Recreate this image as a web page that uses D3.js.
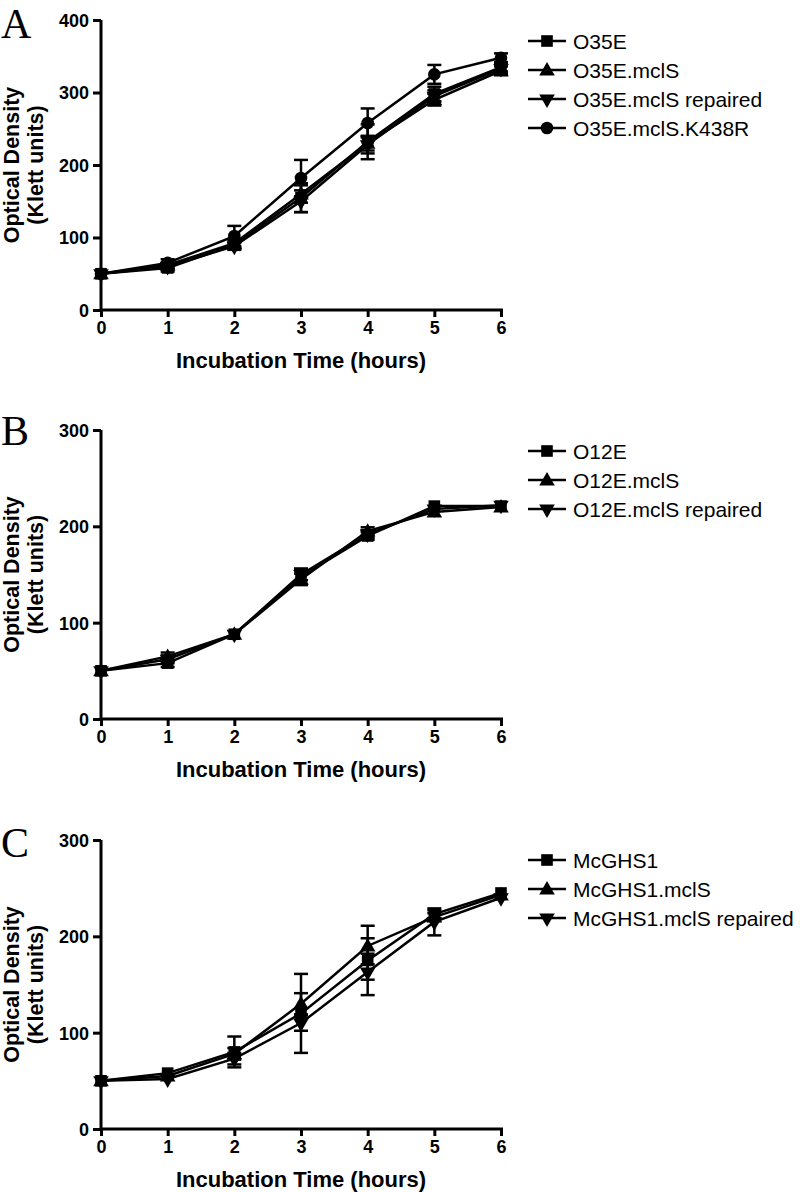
<!DOCTYPE html>
<html>
<head>
<meta charset="utf-8">
<script src="https://cdn.jsdelivr.net/npm/d3@7"></script>
<style>
  html, body { margin: 0; padding: 0; background: #fff; }
  svg { display: block; }
</style>
</head>
<body>
<svg id="chart" width="800" height="1192"></svg>
<script>
// ---------- DATA ----------
const hours = [0, 1, 2, 3, 4, 5, 6];
const xTicks = [0, 1, 2, 3, 4, 5, 6];

// Panel A
const aNames = ["O35E", "O35E.mclS", "O35E.mclS repaired", "O35E.mclS.K438R"];
const aO35E      = [50, 58, 90, 155, 232, 298, 335];
const aO35EErr   = [2, 5, 6, 20, 24, 10, 6];
const aMclS      = [50, 62, 92, 160, 230, 290, 330];
const aMclSErr   = [2, 4, 6, 12, 10, 8, 6];
const aRep       = [50, 60, 88, 150, 228, 295, 333];
const aRepErr    = [2, 4, 5, 15, 12, 8, 6];
const aK438R     = [50, 65, 102, 182, 258, 325, 348];
const aK438RErr  = [2, 5, 14, 25, 20, 13, 6];
const aYTicks = [0, 100, 200, 300, 400];

// Panel B
const bNames = ["O12E", "O12E.mclS", "O12E.mclS repaired"];
const bO12E    = [50, 58, 88, 148, 190, 221, 221];
const bO12EErr = [2, 4, 3, 8, 4, 3, 3];
const bMclS    = [50, 65, 88, 145, 195, 215, 220];
const bMclSErr = [2, 4, 3, 6, 4, 3, 3];
const bRep     = [50, 62, 88, 150, 192, 218, 222];
const bRepErr  = [2, 4, 3, 6, 4, 3, 3];
const bYTicks = [0, 100, 200, 300];

// Panel C
const cNames = ["McGHS1", "McGHS1.mclS", "McGHS1.mclS repaired"];
const cMcG     = [50, 58, 80, 120, 175, 223, 245];
const cMcGErr  = [2, 3, 16, 41, 36, 4, 3];
const cMclS    = [50, 55, 78, 130, 190, 220, 243];
const cMclSErr = [2, 3, 6, 11, 8, 4, 3];
const cRep     = [50, 52, 73, 110, 163, 215, 240];
const cRepErr  = [2, 3, 6, 8, 8, 14, 3];
const cYTicks = [0, 100, 200, 300];

// ---------- DRAW ----------
const svg = d3.select("#chart");
const markerShapes = ["square", "triangle", "triangleDown", "circle"];
const SANS = "Liberation Sans, Arial, sans-serif";

function symbolPath(shape) {
  if (shape === "square") return d3.symbol().type(d3.symbolSquare).size(135)();
  if (shape === "circle") return d3.symbol().type(d3.symbolCircle).size(125)();
  return d3.symbol().type(d3.symbolTriangle).size(105)();
}
function symbolTransform(shape, x, y) {
  if (shape === "triangleDown") return `translate(${x},${y}) rotate(180)`;
  if (shape === "triangle") return `translate(${x},${y + 1})`;
  return `translate(${x},${y})`;
}

function drawPanel(cfg) {
  const g = svg.append("g");
  const x = d3.scaleLinear().domain([0, 6]).range([101, 501]);
  const y = d3.scaleLinear().domain([0, cfg.yMax]).range([cfg.y0, cfg.yTop]);

  // Panel letter
  g.append("text")
    .attr("x", 1).attr("y", cfg.letterY)
    .attr("font-family", "Liberation Serif, Times New Roman, serif")
    .attr("font-size", 42)
    .text(cfg.letter);

  // Axes
  const yAxis = d3.axisLeft(y).tickValues(cfg.yTicks).tickSize(8).tickPadding(4).tickFormat(d3.format("d"));
  const xAxis = d3.axisBottom(x).tickValues(xTicks).tickSize(7).tickPadding(4).tickFormat(d3.format("d"));

  const ya = g.append("g").attr("transform", "translate(101,0)").call(yAxis);
  const xa = g.append("g").attr("transform", `translate(0,${cfg.y0})`).call(xAxis);
  [ya, xa].forEach(a => {
    a.select(".domain").attr("stroke", "#000").attr("stroke-width", 3)
      .attr("d", a === ya ? `M0,${cfg.yTop}V${cfg.y0}` : `M101,0H503`);
    a.selectAll(".tick line").attr("stroke", "#000").attr("stroke-width", 3);
    a.selectAll(".tick text")
      .attr("font-family", SANS)
      .attr("font-weight", "bold").attr("font-size", 18).attr("fill", "#000");
  });
  ya.selectAll(".tick text").attr("dy", "0.36em");

  // Axis titles
  const midY = (cfg.yTop + cfg.y0) / 2;
  g.append("text")
    .attr("transform", `translate(19,${midY}) rotate(-90)`)
    .attr("text-anchor", "middle")
    .attr("font-family", SANS)
    .attr("font-weight", "bold").attr("font-size", 21.5)
    .text("Optical Density");
  g.append("text")
    .attr("transform", `translate(43,${midY}) rotate(-90)`)
    .attr("text-anchor", "middle")
    .attr("font-family", SANS)
    .attr("font-weight", "bold").attr("font-size", 21.5)
    .text("(Klett units)");
  g.append("text")
    .attr("x", 301).attr("y", cfg.y0 + 58)
    .attr("text-anchor", "middle")
    .attr("font-family", SANS)
    .attr("font-weight", "bold").attr("font-size", 22)
    .text("Incubation Time (hours)");

  const line = d3.line().x((d, i) => x(hours[i])).y(d => y(d));

  // draw series in reverse so first series is on top
  const order = cfg.series.map((s, i) => i).reverse();
  order.forEach(i => {
    const s = cfg.series[i];
    const shape = markerShapes[i];
    const sg = g.append("g");
    // error bars
    hours.forEach((h, k) => {
      const e = s.err[k];
      if (e <= 3) return;
      const cx = x(h), yt = y(s.values[k] + e), yb = y(s.values[k] - e);
      sg.append("line").attr("x1", cx).attr("x2", cx).attr("y1", yt).attr("y2", yb)
        .attr("stroke", "#000").attr("stroke-width", 2.5);
      [yt, yb].forEach(yy => sg.append("line")
        .attr("x1", cx - 7).attr("x2", cx + 7).attr("y1", yy).attr("y2", yy)
        .attr("stroke", "#000").attr("stroke-width", 2.5));
    });
    sg.append("path").datum(s.values).attr("d", line)
      .attr("fill", "none").attr("stroke", "#000").attr("stroke-width", 2.5);
    sg.selectAll("path.m").data(s.values).enter().append("path")
      .attr("class", "m")
      .attr("d", symbolPath(shape))
      .attr("transform", (d, k) => symbolTransform(shape, x(hours[k]), y(d)))
      .attr("fill", "#000");
  });

  // Legend
  cfg.series.forEach((s, i) => {
    const ly = cfg.legendY + i * 29;
    const shape = markerShapes[i];
    g.append("line").attr("x1", 528).attr("x2", 566).attr("y1", ly).attr("y2", ly)
      .attr("stroke", "#000").attr("stroke-width", 2.5);
    g.append("path").attr("d", symbolPath(shape))
      .attr("transform", symbolTransform(shape, 547, ly)).attr("fill", "#000");
    g.append("text").attr("x", 573).attr("y", ly).attr("dy", "0.36em")
      .attr("font-family", SANS)
      .attr("font-size", 21).attr("fill", "#000")
      .text(s.name);
  });
}

drawPanel({
  letter: "A", letterY: 38, yMax: 400, yTop: 20, y0: 310, yTicks: aYTicks, legendY: 41,
  series: [
    { name: aNames[0], values: aO35E, err: aO35EErr },
    { name: aNames[1], values: aMclS, err: aMclSErr },
    { name: aNames[2], values: aRep, err: aRepErr },
    { name: aNames[3], values: aK438R, err: aK438RErr }
  ]
});
drawPanel({
  letter: "B", letterY: 445, yMax: 300, yTop: 430, y0: 719, yTicks: bYTicks, legendY: 451,
  series: [
    { name: bNames[0], values: bO12E, err: bO12EErr },
    { name: bNames[1], values: bMclS, err: bMclSErr },
    { name: bNames[2], values: bRep, err: bRepErr }
  ]
});
drawPanel({
  letter: "C", letterY: 857, yMax: 300, yTop: 840, y0: 1129, yTicks: cYTicks, legendY: 860,
  series: [
    { name: cNames[0], values: cMcG, err: cMcGErr },
    { name: cNames[1], values: cMclS, err: cMclSErr },
    { name: cNames[2], values: cRep, err: cRepErr }
  ]
});
</script>
</body>
</html>
